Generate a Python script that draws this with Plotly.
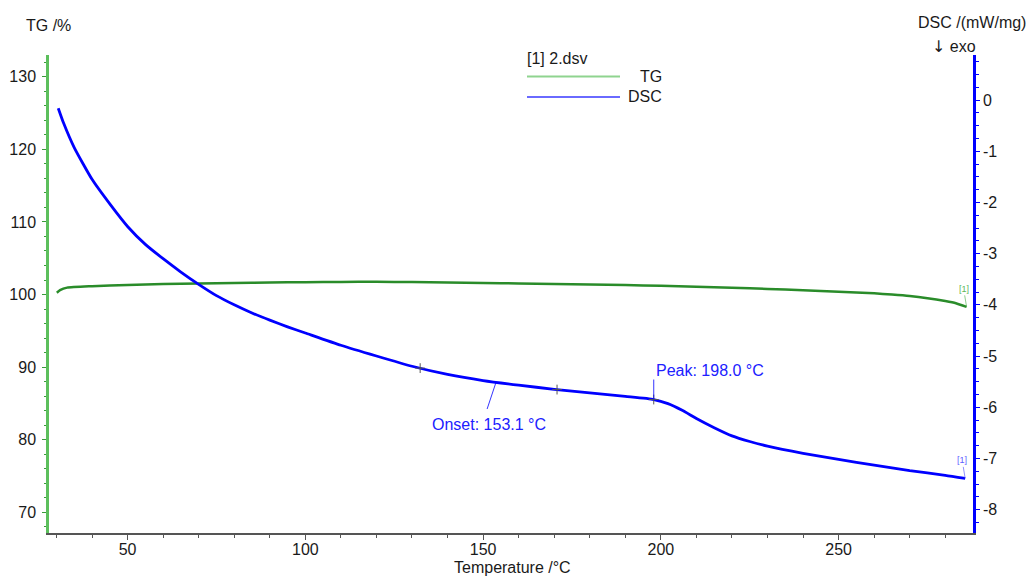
import numpy as np
import plotly.graph_objects as go

# --- measured data -------------------------------------------------------
tg_temp = [30.1, 31.0, 33.0, 40.0, 50.0, 60.0, 70.0, 80.0, 90.0, 100.0, 110.0,
           120.0, 130.0, 140.0, 150.0, 160.0, 170.0, 180.0, 190.0, 200.0, 210.0,
           220.0, 230.0, 240.0, 250.0, 260.0, 265.0, 270.0, 275.0, 280.0, 283.0,
           286.0]
tg_mass = [100.25, 100.6, 100.95, 101.15, 101.33, 101.45, 101.53, 101.6, 101.66,
           101.7, 101.74, 101.75, 101.72, 101.67, 101.6, 101.53, 101.46, 101.38,
           101.3, 101.2, 101.07, 100.93, 100.77, 100.6, 100.4, 100.17, 100.0,
           99.8, 99.5, 99.1, 98.8, 98.3]

dsc_temp = [30.5, 32.0, 35.0, 40.0, 45.0, 50.0, 55.0, 60.0, 65.0, 70.0, 75.0,
            80.0, 85.0, 90.0, 95.0, 100.0, 110.0, 120.0, 130.0, 140.0, 150.0,
            160.0, 170.0, 180.0, 190.0, 198.0, 202.0, 206.0, 210.0, 215.0, 220.0,
            225.0, 230.0, 240.0, 250.0, 260.0, 270.0, 280.0, 285.6]
dsc_signal = [-0.16, -0.45, -0.93, -1.55, -2.03, -2.47, -2.82, -3.10, -3.36,
              -3.60, -3.82, -4.00, -4.16, -4.30, -4.43, -4.55, -4.79, -5.00,
              -5.20, -5.36, -5.48, -5.57, -5.65, -5.72, -5.79, -5.85, -5.93,
              -6.06, -6.22, -6.40, -6.56, -6.67, -6.76, -6.90, -7.02, -7.13,
              -7.24, -7.33, -7.39]

# evaluation points marked on the DSC curve
eval_temp = [132.3, 170.8, 198.0]
onset_temp = 153.1
peak_temp = 198.0

x_ticks = [50, 100, 150, 200, 250]
tg_ticks = [70, 80, 90, 100, 110, 120, 130]
dsc_ticks = [-8, -7, -6, -5, -4, -3, -2, -1, 0]

# --- layout helpers (pixel -> paper) ---------------------------------------
L, R, T, B = 49, 973, 55, 533
W, H = 1035, 579


def px(x):
    return (x - L) / (R - L)


def py(y):
    return (B - y) / (B - T)


FONT = "Liberation Sans, Arial, sans-serif"
TXT = "#1a1a1a"
GREEN = "#2a8c2a"
BLUE = "#0000ff"
LABEL_BLUE = "#2020ff"
FS = 16

fig = go.Figure()

fig.add_trace(go.Scatter(x=tg_temp, y=tg_mass, mode="lines", name="TG",
                         line=dict(color=GREEN, width=2.5, shape="spline",
                                   smoothing=0.5),
                         yaxis="y", showlegend=False))
fig.add_trace(go.Scatter(x=dsc_temp, y=dsc_signal, mode="lines", name="DSC",
                         line=dict(color=BLUE, width=2.8, shape="spline",
                                   smoothing=0.5),
                         yaxis="y2", showlegend=False))

eval_y = np.interp(eval_temp, dsc_temp, dsc_signal)
fig.add_trace(go.Scatter(x=eval_temp, y=eval_y, mode="markers",
                         marker=dict(symbol="cross-thin", size=7,
                                     line=dict(color="#555555", width=1)),
                         yaxis="y2", showlegend=False, hoverinfo="skip"))

onset_y = float(np.interp(onset_temp, dsc_temp, dsc_signal))
peak_y = float(np.interp(peak_temp, dsc_temp, dsc_signal))

annotations = [
    dict(x=onset_temp, y=onset_y, xref="x", yref="y2",
         text=f"Onset: {onset_temp:.1f} °C", showarrow=False,
         xanchor="center", yanchor="middle", xshift=-5, yshift=-42,
         font=dict(family=FONT, size=FS, color=LABEL_BLUE)),
    dict(x=peak_temp, y=peak_y, xref="x", yref="y2",
         text=f"Peak: {peak_temp:.1f} °C", showarrow=False,
         xanchor="left", yanchor="middle", xshift=0, yshift=29,
         font=dict(family=FONT, size=FS, color=LABEL_BLUE)),
    dict(x=tg_temp[-1], y=tg_mass[-1], xref="x", yref="y",
         text="[1]", showarrow=True, arrowhead=0, arrowwidth=0.7,
         arrowcolor="#5cb85c", ax=-3, ay=-18,
         font=dict(family=FONT, size=9, color="#5cb85c")),
    dict(x=dsc_temp[-1], y=dsc_signal[-1], xref="x", yref="y2",
         text="[1]", showarrow=True, arrowhead=0, arrowwidth=0.7,
         arrowcolor="#6060ff", ax=-3, ay=-18,
         font=dict(family=FONT, size=9, color="#6060ff")),
    # axis captions
    dict(x=px(48), y=py(26), xref="paper", yref="paper", text="TG /%",
         showarrow=False, xanchor="center", yanchor="middle",
         font=dict(family=FONT, size=FS, color=TXT)),
    dict(x=px(972), y=py(22), xref="paper", yref="paper", text="DSC /(mW/mg)",
         showarrow=False, xanchor="center", yanchor="middle",
         font=dict(family=FONT, size=FS, color=TXT)),
    dict(x=px(954), y=py(47), xref="paper", yref="paper",
         text="<span style='font-family:DejaVu Sans'>↓</span> exo",
         showarrow=False, xanchor="center", yanchor="middle",
         font=dict(family=FONT, size=FS, color=TXT)),
    dict(x=px(512), y=py(567), xref="paper", yref="paper",
         text="Temperature /°C",
         showarrow=False, xanchor="center", yanchor="middle",
         font=dict(family=FONT, size=FS, color=TXT)),
    # legend block
    dict(x=px(525), y=py(58), xref="paper", yref="paper", text="[1] 2.dsv",
         showarrow=False, xanchor="left", yanchor="middle",
         font=dict(family=FONT, size=FS, color=TXT)),
    dict(x=px(664), y=py(77), xref="paper", yref="paper", text="TG",
         showarrow=False, xanchor="right", yanchor="middle",
         font=dict(family=FONT, size=FS, color=TXT)),
    dict(x=px(664), y=py(97), xref="paper", yref="paper", text="DSC",
         showarrow=False, xanchor="right", yanchor="middle",
         font=dict(family=FONT, size=FS, color=TXT)),
]

shapes = [
    # legend swatches
    dict(type="line", xref="paper", yref="paper", x0=px(527), x1=px(620),
         y0=py(76.5), y1=py(76.5), line=dict(color="#8fd48f", width=2)),
    dict(type="line", xref="paper", yref="paper", x0=px(527), x1=px(620),
         y0=py(97), y1=py(97), line=dict(color="#6a6aff", width=2)),
    # leader lines from the curve to the evaluation labels
    dict(type="line", xref="x", yref="y2", xsizemode="pixel",
         ysizemode="pixel", xanchor=onset_temp, yanchor=onset_y,
         x0=2, y0=0, x1=-7, y1=-27, line=dict(color=BLUE, width=0.8)),
    dict(type="line", xref="x", yref="y2", xsizemode="pixel",
         ysizemode="pixel", xanchor=peak_temp, yanchor=peak_y,
         x0=0, y0=0, x1=0, y1=20, line=dict(color=BLUE, width=0.8)),
]

tick_font = dict(family=FONT, size=FS, color=TXT)

fig.update_layout(
    width=W, height=H,
    margin=dict(l=L, r=W - R, t=T, b=H - B, pad=0, autoexpand=False),
    paper_bgcolor="white", plot_bgcolor="white",
    showlegend=False,
    annotations=annotations,
    shapes=shapes,
    xaxis=dict(
        range=[27.9, 287.8], tickvals=x_ticks, ticks="outside", ticklen=5,
        tickwidth=1, tickcolor="#555555", showgrid=False, zeroline=False,
        showline=True, linecolor="#555555", linewidth=2,
        tickfont=tick_font, ticklabelstandoff=-4, automargin=False,
        minor=dict(dtick=10, tick0=0, ticks="outside", ticklen=3,
                   tickcolor="#555555", showgrid=False),
    ),
    yaxis=dict(
        range=[67.15, 133.0], tickvals=tg_ticks,
        ticktext=[str(v) for v in tg_ticks], ticks="outside", ticklen=4,
        tickcolor="#3a9a3a", showgrid=False, zeroline=False,
        showline=True, linecolor="#5cbf5c", linewidth=2.5,
        tickfont=tick_font, ticklabelstandoff=3, automargin=False,
        minor=dict(dtick=2, tick0=0, ticks="outside", ticklen=2,
                   tickcolor="#3a9a3a", showgrid=False),
    ),
    yaxis2=dict(
        range=[-8.457, 0.879], tickvals=dsc_ticks,
        ticktext=[str(v) for v in dsc_ticks], overlaying="y", side="right",
        anchor="x", ticks="outside", ticklen=4, tickcolor=BLUE,
        showgrid=False, zeroline=False, showline=True, linecolor=BLUE,
        linewidth=2.5, tickfont=tick_font, automargin=False,
        minor=dict(dtick=0.25, tick0=0, ticks="outside", ticklen=3,
                   tickcolor=BLUE, showgrid=False),
    ),
)

fig.write_html("out.html")
